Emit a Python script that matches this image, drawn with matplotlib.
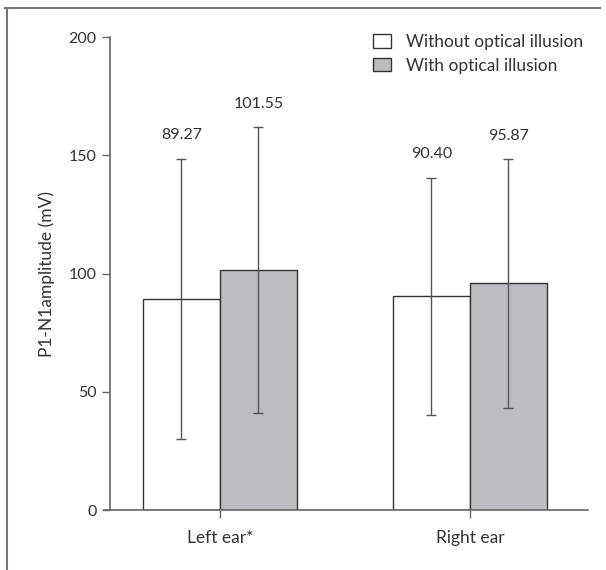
from matplotlib import pyplot as plt
from matplotlib.lines import Line2D
import numpy as np

plt.rcParams['font.family'] = ['Lato', 'DejaVu Sans']

groups = ["Left ear*", "Right ear"]
labels = ["Without optical illusion", "With optical illusion"]
without_mean = [89.27, 90.40]
without_sd = [59.2, 50.1]
with_mean = [101.55, 95.87]
with_sd = [60.3, 52.5]
yticks = [0, 50, 100, 150, 200]

fig = plt.figure(figsize=(6.06, 5.70), dpi=100)
ax = fig.add_axes([0.1716, 0.105, 0.7987, 0.830])

x = np.arange(len(groups))
w = 0.308
txt = "#333333"
err_kw = dict(ecolor="#555555", elinewidth=1.0, capsize=3.5, capthick=1.0)

b1 = ax.bar(x - w / 2, without_mean, w, yerr=without_sd, color="white",
            edgecolor="#333333", linewidth=1.0, label=labels[0], error_kw=err_kw)
b2 = ax.bar(x + w / 2, with_mean, w, yerr=with_sd, color="#bcbdc0",
            edgecolor="#333333", linewidth=1.0, label=labels[1], error_kw=err_kw)

for xs, m, s in [(x - w / 2, without_mean, without_sd), (x + w / 2, with_mean, with_sd)]:
    for xi, mi, si in zip(xs, m, s):
        ax.annotate(f"{mi:.2f}", (xi, mi + si), xytext=(0, 12), textcoords="offset points",
                    ha="center", va="bottom", fontsize=11.5, color=txt)

ax.set_xlim(-0.464, 1.472)
ax.set_ylim(0, 200)
ax.set_yticks(yticks)
ax.set_xticks(x)
ax.set_xticklabels(groups)
ax.set_ylabel("P1-N1amplitude (mV)", fontsize=12.5, color=txt, labelpad=10)

for s in ["top", "right"]:
    ax.spines[s].set_visible(False)
ax.spines['left'].set_position(('data', -0.44))
for s in ["left", "bottom"]:
    ax.spines[s].set_color("#666666")
    ax.spines[s].set_linewidth(1.2)
ax.tick_params(axis='both', colors="#666666", labelcolor=txt, length=6, width=1.0)
ax.tick_params(axis='y', labelsize=11.5)
ax.tick_params(axis='x', labelsize=12.5, pad=8)

ax.legend(loc="upper right", bbox_to_anchor=(1.023, 1.04), frameon=False, fontsize=12.5,
          handlelength=1.0, handleheight=0.85, handletextpad=0.9, labelspacing=0.45,
          labelcolor=txt)

# partial outer frame (top and left)
fig.add_artist(Line2D([5 / 606, 600 / 606], [1 - 8 / 570, 1 - 8 / 570], color="#777777", lw=1.5))
fig.add_artist(Line2D([7 / 606, 7 / 606], [0, 1 - 8 / 570], color="#777777", lw=1.5))

fig.savefig("out.png", dpi=100)
